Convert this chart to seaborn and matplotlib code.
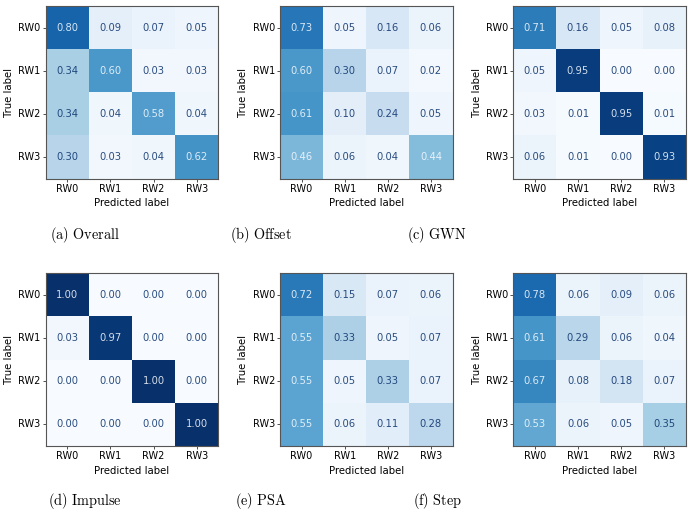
import numpy as np
import pandas as pd
import matplotlib
matplotlib.use("Agg")
import matplotlib.pyplot as plt
import seaborn as sns

labels = ["RW0", "RW1", "RW2", "RW3"]

cm_overall = [[0.80, 0.09, 0.07, 0.05],
              [0.34, 0.60, 0.03, 0.03],
              [0.34, 0.04, 0.58, 0.04],
              [0.30, 0.03, 0.04, 0.62]]
cm_offset = [[0.73, 0.05, 0.16, 0.06],
             [0.60, 0.30, 0.07, 0.02],
             [0.61, 0.10, 0.24, 0.05],
             [0.46, 0.06, 0.04, 0.44]]
cm_gwn = [[0.71, 0.16, 0.05, 0.08],
          [0.05, 0.95, 0.00, 0.00],
          [0.03, 0.01, 0.95, 0.01],
          [0.06, 0.01, 0.00, 0.93]]
cm_impulse = [[1.00, 0.00, 0.00, 0.00],
              [0.03, 0.97, 0.00, 0.00],
              [0.00, 0.00, 1.00, 0.00],
              [0.00, 0.00, 0.00, 1.00]]
cm_psa = [[0.72, 0.15, 0.07, 0.06],
          [0.55, 0.33, 0.05, 0.07],
          [0.55, 0.05, 0.33, 0.07],
          [0.55, 0.06, 0.11, 0.28]]
cm_step = [[0.78, 0.06, 0.09, 0.06],
           [0.61, 0.29, 0.06, 0.04],
           [0.67, 0.08, 0.18, 0.07],
           [0.53, 0.06, 0.05, 0.35]]

captions = ["(a) Overall", "(b) Offset", "(c) GWN",
            "(d) Impulse", "(e) PSA", "(f) Step"]
matrices = [cm_overall, cm_offset, cm_gwn, cm_impulse, cm_psa, cm_step]

plt.rcParams["mathtext.fontset"] = "cm"

W, H = 692, 517
fig = plt.figure(figsize=(W / 100, H / 100), dpi=100)

lefts = [45.7, 280, 513.3]
tops = [6, 273.3]
size = 172.5
cap_x = [85, 261, 437]
cap_y = [235, 501]

cmap = plt.get_cmap("Blues")
dark = cmap(1.0)
light = cmap(0.0)

for k, (mat, cap) in enumerate(zip(matrices, captions)):
    r, c = divmod(k, 3)
    l = lefts[c]
    t = tops[r]
    ax = fig.add_axes([l / W, 1 - (t + size) / H, size / W, size / H])
    df = pd.DataFrame(mat, index=labels, columns=labels)
    sns.heatmap(df, ax=ax, cmap="Blues", vmin=0, vmax=1, cbar=False,
                annot=True, fmt=".2f", annot_kws={"fontsize": 7.2},
                square=False)
    arr = np.array(mat)
    thresh = (arr.max() + arr.min()) / 2.0
    vals = arr.flatten()
    for txt, v in zip(ax.texts, vals):
        txt.set_color(dark if v < thresh else light)
        txt.set_alpha(0.85)
    for sp in ax.spines.values():
        sp.set_visible(True)
        sp.set_color("#555555")
        sp.set_linewidth(0.8)
    ax.tick_params(axis="both", labelsize=7.0, length=2.4, width=0.6,
                   color="#333333", pad=1.2)
    ax.set_yticklabels(labels, rotation=0)
    ax.set_xticklabels(labels, rotation=0)
    ax.set_xlabel("Predicted label", fontsize=7.3, labelpad=3.5)
    ax.set_ylabel("True label", fontsize=7.3, labelpad=3.0)
    fig.text(cap_x[c] / W, 1 - cap_y[r] / H,
             r"$\mathrm{" + cap.replace(" ", r"\ ") + "}$",
             ha="center", va="center", fontsize=10.3)

fig.savefig("out.png", dpi=100)
